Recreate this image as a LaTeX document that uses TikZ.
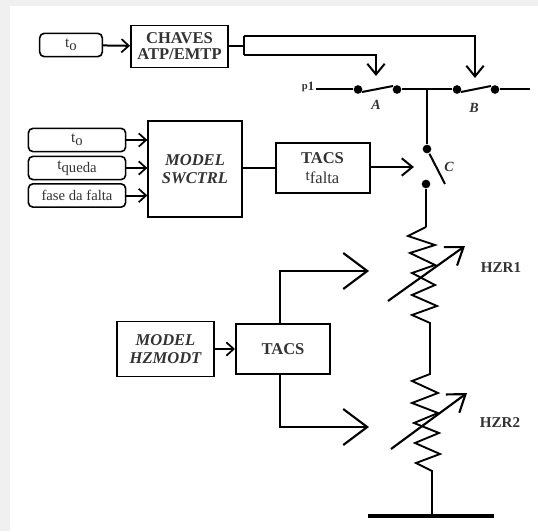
\documentclass[tikz,border=0pt]{standalone}
\usepackage{fontspec}
\setmainfont{Liberation Serif}
\usetikzlibrary{arrows.meta, positioning, calc}

% small t with a lowered word next to it
\newcommand{\tsub}[1]{{\fontsize{11.5}{12}\selectfont t}\raisebox{-0.45ex}{#1}}

\begin{document}
\begin{tikzpicture}[
            x=0.75pt,
            y=-0.75pt,
            line width=1.5pt,
            line join=miter,
            font=\fontsize{12.4}{13.5}\selectfont,
            text=black!80,
            block/.style={
                draw,
                rectangle,
                inner sep=0pt,
                align=center
            },
            tag/.style={
                draw,
                rectangle,
                rounded corners=3.5pt,
                line width=1.2pt,
                inner sep=0pt,
                minimum height=17.5pt,
                font=\fontsize{11}{12}\selectfont
            },
            contact/.style={
                circle,
                fill=black,
                inner sep=0pt,
                minimum size=6.5pt
            },
            small barb/.style={
                -{Straight Barb[length=5.5pt, width=10pt, line width=1.3pt]}
            },
            mid barb/.style={
                -{Straight Barb[length=8pt, width=13pt, line width=1.5pt]}
            },
            big barb/.style={
                -{Straight Barb[length=18pt, width=27pt, line width=1.6pt]}
            },
            slider/.style={
                line width=1.6pt,
                -{Straight Barb[length=12pt, width=17pt, line width=1.6pt]}
            }
        ]
        % page and white sheet
        \fill[black!6] (0,0) rectangle (538,531);
        \fill[white] (10,6) rectangle (538,531);
        \useasboundingbox (0,0) rectangle (538,531);

        % upper row
        \node[tag, minimum width=47pt] (t1) at (71,45) {\tsub{o}};
        \node[block, minimum width=73pt, minimum height=31.5pt, line width=1.2pt] (chaves) at (179.5,46.5)
            {\textbf{CHAVES}\\[-1.5pt]\textbf{ATP/EMTP}};
        \coordinate (fork) at (244,46);
        \coordinate (forka) at (244,55);
        \coordinate (forkb) at (244,36);

        % switches
        \node[contact] (a1) at (358,89.5) {};
        \node[contact] (a2) at (397,89.5) {};
        \node[contact] (b1) at (457,89.5) {};
        \node[contact] (b2) at (495,89.5) {};
        \node[contact] (c1) at (427,149) {};
        \node[contact] (c2) at (426,184) {};
        \coordinate (j) at (427,89.5);
        \coordinate (p) at (316,89.5);
        \coordinate (out) at (530,89.5);
        \coordinate (abar) at (376,76);
        \coordinate (bbar) at (475,78);
        \coordinate (cbar) at (414,167);
        \coordinate (cend) at (445,184);
        \coordinate (ablade) at (362,92);
        \coordinate (ablade2) at (393,86);
        \coordinate (bblade) at (461,92);
        \coordinate (bblade2) at (491,86);
        \node[inner sep=0pt, font=\fontsize{10}{12}\selectfont\bfseries] (p1) at (308,87) {\raisebox{0.3ex}{\fontsize{8}{9}\selectfont p}\fontsize{9.5}{11}\selectfont 1};
        \node[inner sep=0pt, font=\fontsize{10.5}{12}\selectfont\bfseries\itshape] (la) at (376,105) {A};
        \node[inner sep=0pt, font=\fontsize{10.5}{12}\selectfont\bfseries\itshape] (lb) at (474,108) {B};
        \node[inner sep=0pt, font=\fontsize{10.5}{12}\selectfont\bfseries\itshape] (lc) at (449,167) {C};

        % middle row
        \node[tag, minimum width=73pt] (t2) at (77,140) {\tsub{o}};
        \node[tag, minimum width=73pt] (t3) at (77,168) {\tsub{queda}};
        \node[tag, minimum width=73pt] (t4) at (77,195.5) {fase da falta};
        \node[block, minimum width=70pt, minimum height=71.5pt, font=\fontsize{12.4}{13.5}\selectfont\bfseries\itshape] (swctrl) at (195,169) {MODEL\\SWCTRL};
        \node[block, minimum width=70.5pt, minimum height=37pt] (tfalta) at (322.5,168) {\textbf{TACS}\\[-1pt]\tsub{falta}};

        % lower row
        \node[block, minimum width=72.5pt, minimum height=41.5pt, line width=1.2pt, font=\fontsize{12.4}{13.5}\selectfont\bfseries\itshape] (hzmodt) at (165.5,349) {MODEL\\HZMODT};
        \node[block, minimum width=70.5pt, minimum height=37.5pt] (tacs) at (283,349) {\textbf{TACS}};
        \coordinate (up) at (280,271);
        \coordinate (upb) at (369,271);
        \coordinate (dn) at (280,427);
        \coordinate (dnb) at (369,427);

        % resistors
        \coordinate (r1) at (426,227);
        \coordinate (r1e) at (430,323);
        \coordinate (r2) at (430,374);
        \coordinate (r2e) at (432,471);
        \coordinate (gnd) at (432,516);
        \coordinate (gl) at (368,516);
        \coordinate (gr) at (494,516);
        \node[inner sep=0pt, font=\fontsize{11.3}{12}\selectfont\bfseries] (hzr1) at (501,268) {HZR1};
        \node[inner sep=0pt, font=\fontsize{11.3}{12}\selectfont\bfseries] (hzr2) at (500,423) {HZR2};
        \coordinate (s1) at (388,301);
        \coordinate (s1e) at (465,246);
        \coordinate (s2) at (391,449);
        \coordinate (s2e) at (467,393);

        % connectors
        \draw[small barb] (t1) -- (chaves);
        \draw (chaves.east |- fork) -- (fork);
        \draw (forka) -- (forkb);
        \draw[mid barb] (forka) -| (abar);
        \draw[mid barb] (forkb) -| (bbar);
        \draw (p) -- (a1);
        \draw (ablade) -- (ablade2);
        \draw (a2) -- (b1);
        \draw (bblade) -- (bblade2);
        \draw (b2) -- (out);
        \draw (j) -- (c1);
        \draw (c1) -- (cend);
        \draw (c2) -- (r1);

        \draw[small barb] (t2.east) -- (swctrl.west |- t2.east);
        \draw[small barb] (t3.east) -- (swctrl.west |- t3.east);
        \draw[small barb] (t4.east) -- (swctrl.west |- t4.east);
        \draw (swctrl.east |- tfalta) -- (tfalta);
        \draw[mid barb] (tfalta.east |- cbar) -- (cbar);

        \draw[small barb] (hzmodt) -- (tacs);
        \draw[big barb] (up |- tacs.north) -- (up) -- (upb);
        \draw[big barb] (dn |- tacs.south) -- (dn) -- (dnb);

        \draw[line width=1.4pt] (r1) -- (408,236) -- (435,245) -- (410,253) -- (435,265) -- (412,273)
            -- (435,285) -- (412,295) -- (437,306) -- (412,315) -- (r1e) -- (r2)
            -- (412,381) -- (438,393) -- (412,403) -- (438,413) -- (414,423)
            -- (439,433) -- (415,443) -- (440,454) -- (416,463) -- (r2e) -- (gnd);
        \draw[line width=2.4pt] (gl) -- (gr);
        \draw[slider] (s1) -- (s1e);
        \draw[slider] (s2) -- (s2e);
    \end{tikzpicture}
\end{document}
